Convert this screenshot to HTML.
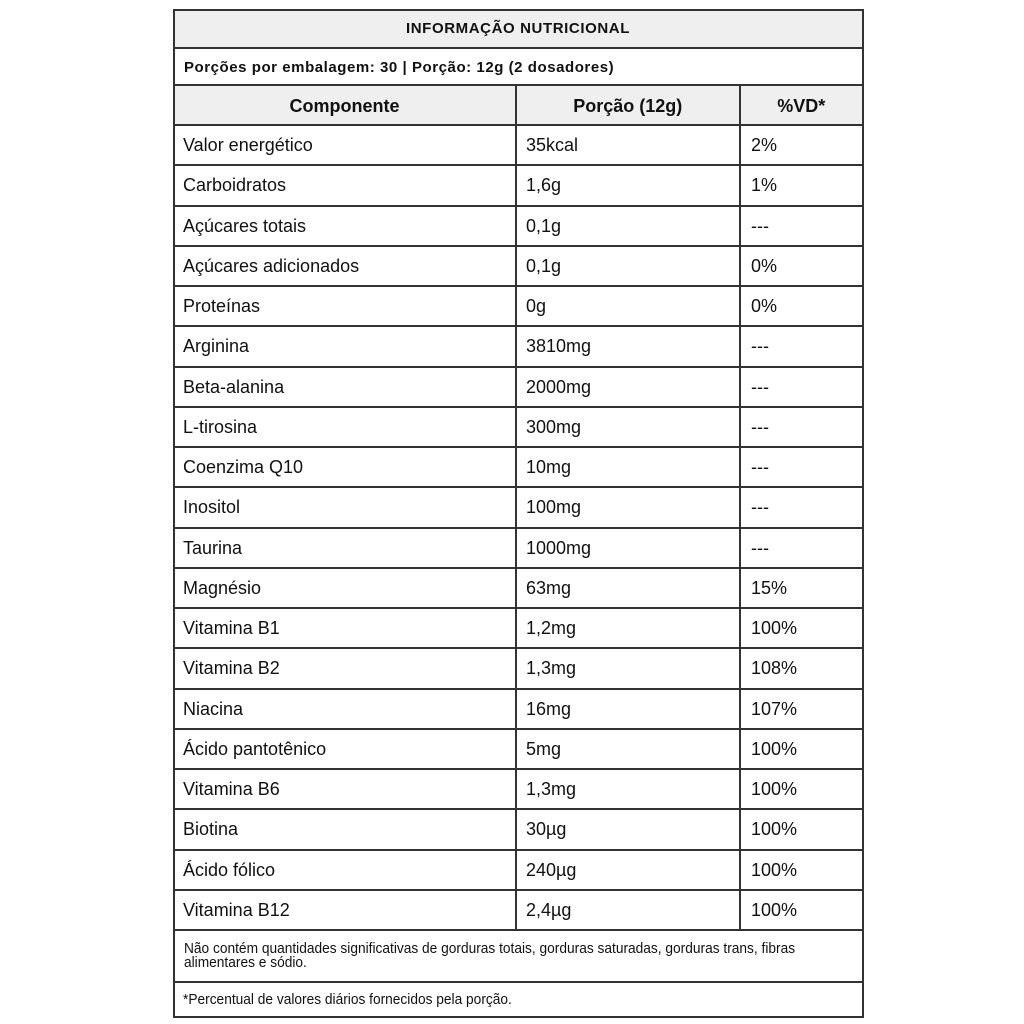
<!DOCTYPE html>
<html>
<head>
<meta charset="utf-8">
<style>
  html,body{margin:0;padding:0;background:#fff;}
  body{width:1024px;height:1024px;position:relative;overflow:hidden;font-family:"Liberation Sans",Arial,sans-serif;color:#111;}
  .bg{position:absolute;background:#efefef;}
  .h{position:absolute;left:172.5px;width:691px;height:2px;background:#333;}
  .v{position:absolute;width:2px;background:#333;}
  .t{position:absolute;white-space:nowrap;}
  .c1{left:183px;}
  .c2{left:526px;}
  .c3{left:751px;}
  .r{position:absolute;height:40.25px;line-height:40.25px;font-size:18px;white-space:nowrap;}
  .fn{position:absolute;left:184px;font-size:15px;line-height:14.3px;white-space:nowrap;transform:scaleX(0.915);transform-origin:0 0;}
</style>
</head>
<body>
<!-- backgrounds -->
<div class="bg" style="left:173.5px;top:9.5px;width:689px;height:38px;"></div>
<div class="bg" style="left:173.5px;top:85px;width:689px;height:40px;"></div>

<!-- horizontal lines -->
<div class="h" style="top:8.5px"></div>
<div class="h" style="top:46.5px"></div>
<div class="h" style="top:84px"></div>
<div class="h" style="top:124px"></div>
<div class="h" style="top:164.25px"></div>
<div class="h" style="top:204.5px"></div>
<div class="h" style="top:244.75px"></div>
<div class="h" style="top:285px"></div>
<div class="h" style="top:325.25px"></div>
<div class="h" style="top:365.5px"></div>
<div class="h" style="top:405.75px"></div>
<div class="h" style="top:446px"></div>
<div class="h" style="top:486.25px"></div>
<div class="h" style="top:526.5px"></div>
<div class="h" style="top:566.75px"></div>
<div class="h" style="top:607px"></div>
<div class="h" style="top:647.25px"></div>
<div class="h" style="top:687.5px"></div>
<div class="h" style="top:727.75px"></div>
<div class="h" style="top:768px"></div>
<div class="h" style="top:808.25px"></div>
<div class="h" style="top:848.5px"></div>
<div class="h" style="top:888.75px"></div>
<div class="h" style="top:929px"></div>
<div class="h" style="top:980.7px"></div>
<div class="h" style="top:1015.7px"></div>

<!-- vertical lines -->
<div class="v" style="left:172.5px;top:8.5px;height:1009.2px"></div>
<div class="v" style="left:861.5px;top:8.5px;height:1009.2px"></div>
<div class="v" style="left:514.5px;top:84px;height:847px"></div>
<div class="v" style="left:739px;top:84px;height:847px"></div>

<!-- title -->
<div class="t" style="left:173.5px;width:689px;top:9.5px;height:38px;line-height:38px;text-align:center;font-weight:bold;font-size:15px;letter-spacing:0.6px;">INFORMAÇÃO NUTRICIONAL</div>
<div class="t" style="left:184px;top:48.5px;height:37.5px;line-height:37.5px;font-weight:bold;font-size:15px;letter-spacing:0.55px;">Porções por embalagem: 30 | Porção: 12g (2 dosadores)</div>

<!-- column headers -->
<div class="t" style="left:173.5px;width:342px;top:86px;height:40px;line-height:40px;text-align:center;font-weight:bold;font-size:18px;">Componente</div>
<div class="t" style="left:515.5px;width:224.5px;top:86px;height:40px;line-height:40px;text-align:center;font-weight:bold;font-size:18px;">Porção (12g)</div>
<div class="t" style="left:740px;width:122.5px;top:86px;height:40px;line-height:40px;text-align:center;font-weight:bold;font-size:18px;">%VD*</div>

<!-- rows -->
<div class="r c1" style="top:125px">Valor energético</div><div class="r c2" style="top:125px">35kcal</div><div class="r c3" style="top:125px">2%</div>
<div class="r c1" style="top:165.25px">Carboidratos</div><div class="r c2" style="top:165.25px">1,6g</div><div class="r c3" style="top:165.25px">1%</div>
<div class="r c1" style="top:205.5px">Açúcares totais</div><div class="r c2" style="top:205.5px">0,1g</div><div class="r c3" style="top:205.5px">---</div>
<div class="r c1" style="top:245.75px">Açúcares adicionados</div><div class="r c2" style="top:245.75px">0,1g</div><div class="r c3" style="top:245.75px">0%</div>
<div class="r c1" style="top:286px">Proteínas</div><div class="r c2" style="top:286px">0g</div><div class="r c3" style="top:286px">0%</div>
<div class="r c1" style="top:326.25px">Arginina</div><div class="r c2" style="top:326.25px">3810mg</div><div class="r c3" style="top:326.25px">---</div>
<div class="r c1" style="top:366.5px">Beta-alanina</div><div class="r c2" style="top:366.5px">2000mg</div><div class="r c3" style="top:366.5px">---</div>
<div class="r c1" style="top:406.75px">L-tirosina</div><div class="r c2" style="top:406.75px">300mg</div><div class="r c3" style="top:406.75px">---</div>
<div class="r c1" style="top:447px">Coenzima Q10</div><div class="r c2" style="top:447px">10mg</div><div class="r c3" style="top:447px">---</div>
<div class="r c1" style="top:487.25px">Inositol</div><div class="r c2" style="top:487.25px">100mg</div><div class="r c3" style="top:487.25px">---</div>
<div class="r c1" style="top:527.5px">Taurina</div><div class="r c2" style="top:527.5px">1000mg</div><div class="r c3" style="top:527.5px">---</div>
<div class="r c1" style="top:567.75px">Magnésio</div><div class="r c2" style="top:567.75px">63mg</div><div class="r c3" style="top:567.75px">15%</div>
<div class="r c1" style="top:608px">Vitamina B1</div><div class="r c2" style="top:608px">1,2mg</div><div class="r c3" style="top:608px">100%</div>
<div class="r c1" style="top:648.25px">Vitamina B2</div><div class="r c2" style="top:648.25px">1,3mg</div><div class="r c3" style="top:648.25px">108%</div>
<div class="r c1" style="top:688.5px">Niacina</div><div class="r c2" style="top:688.5px">16mg</div><div class="r c3" style="top:688.5px">107%</div>
<div class="r c1" style="top:728.75px">Ácido pantotênico</div><div class="r c2" style="top:728.75px">5mg</div><div class="r c3" style="top:728.75px">100%</div>
<div class="r c1" style="top:769px">Vitamina B6</div><div class="r c2" style="top:769px">1,3mg</div><div class="r c3" style="top:769px">100%</div>
<div class="r c1" style="top:809.25px">Biotina</div><div class="r c2" style="top:809.25px">30µg</div><div class="r c3" style="top:809.25px">100%</div>
<div class="r c1" style="top:849.5px">Ácido fólico</div><div class="r c2" style="top:849.5px">240µg</div><div class="r c3" style="top:849.5px">100%</div>
<div class="r c1" style="top:889.75px">Vitamina B12</div><div class="r c2" style="top:889.75px">2,4µg</div><div class="r c3" style="top:889.75px">100%</div>

<!-- footnotes -->
<div class="fn" style="top:941.6px;">Não contém quantidades significativas de gorduras totais, gorduras saturadas, gorduras trans, fibras<br>alimentares e sódio.</div>
<div class="fn" style="top:992.6px;left:183px;">*Percentual de valores diários fornecidos pela porção.</div>
</body>
</html>
